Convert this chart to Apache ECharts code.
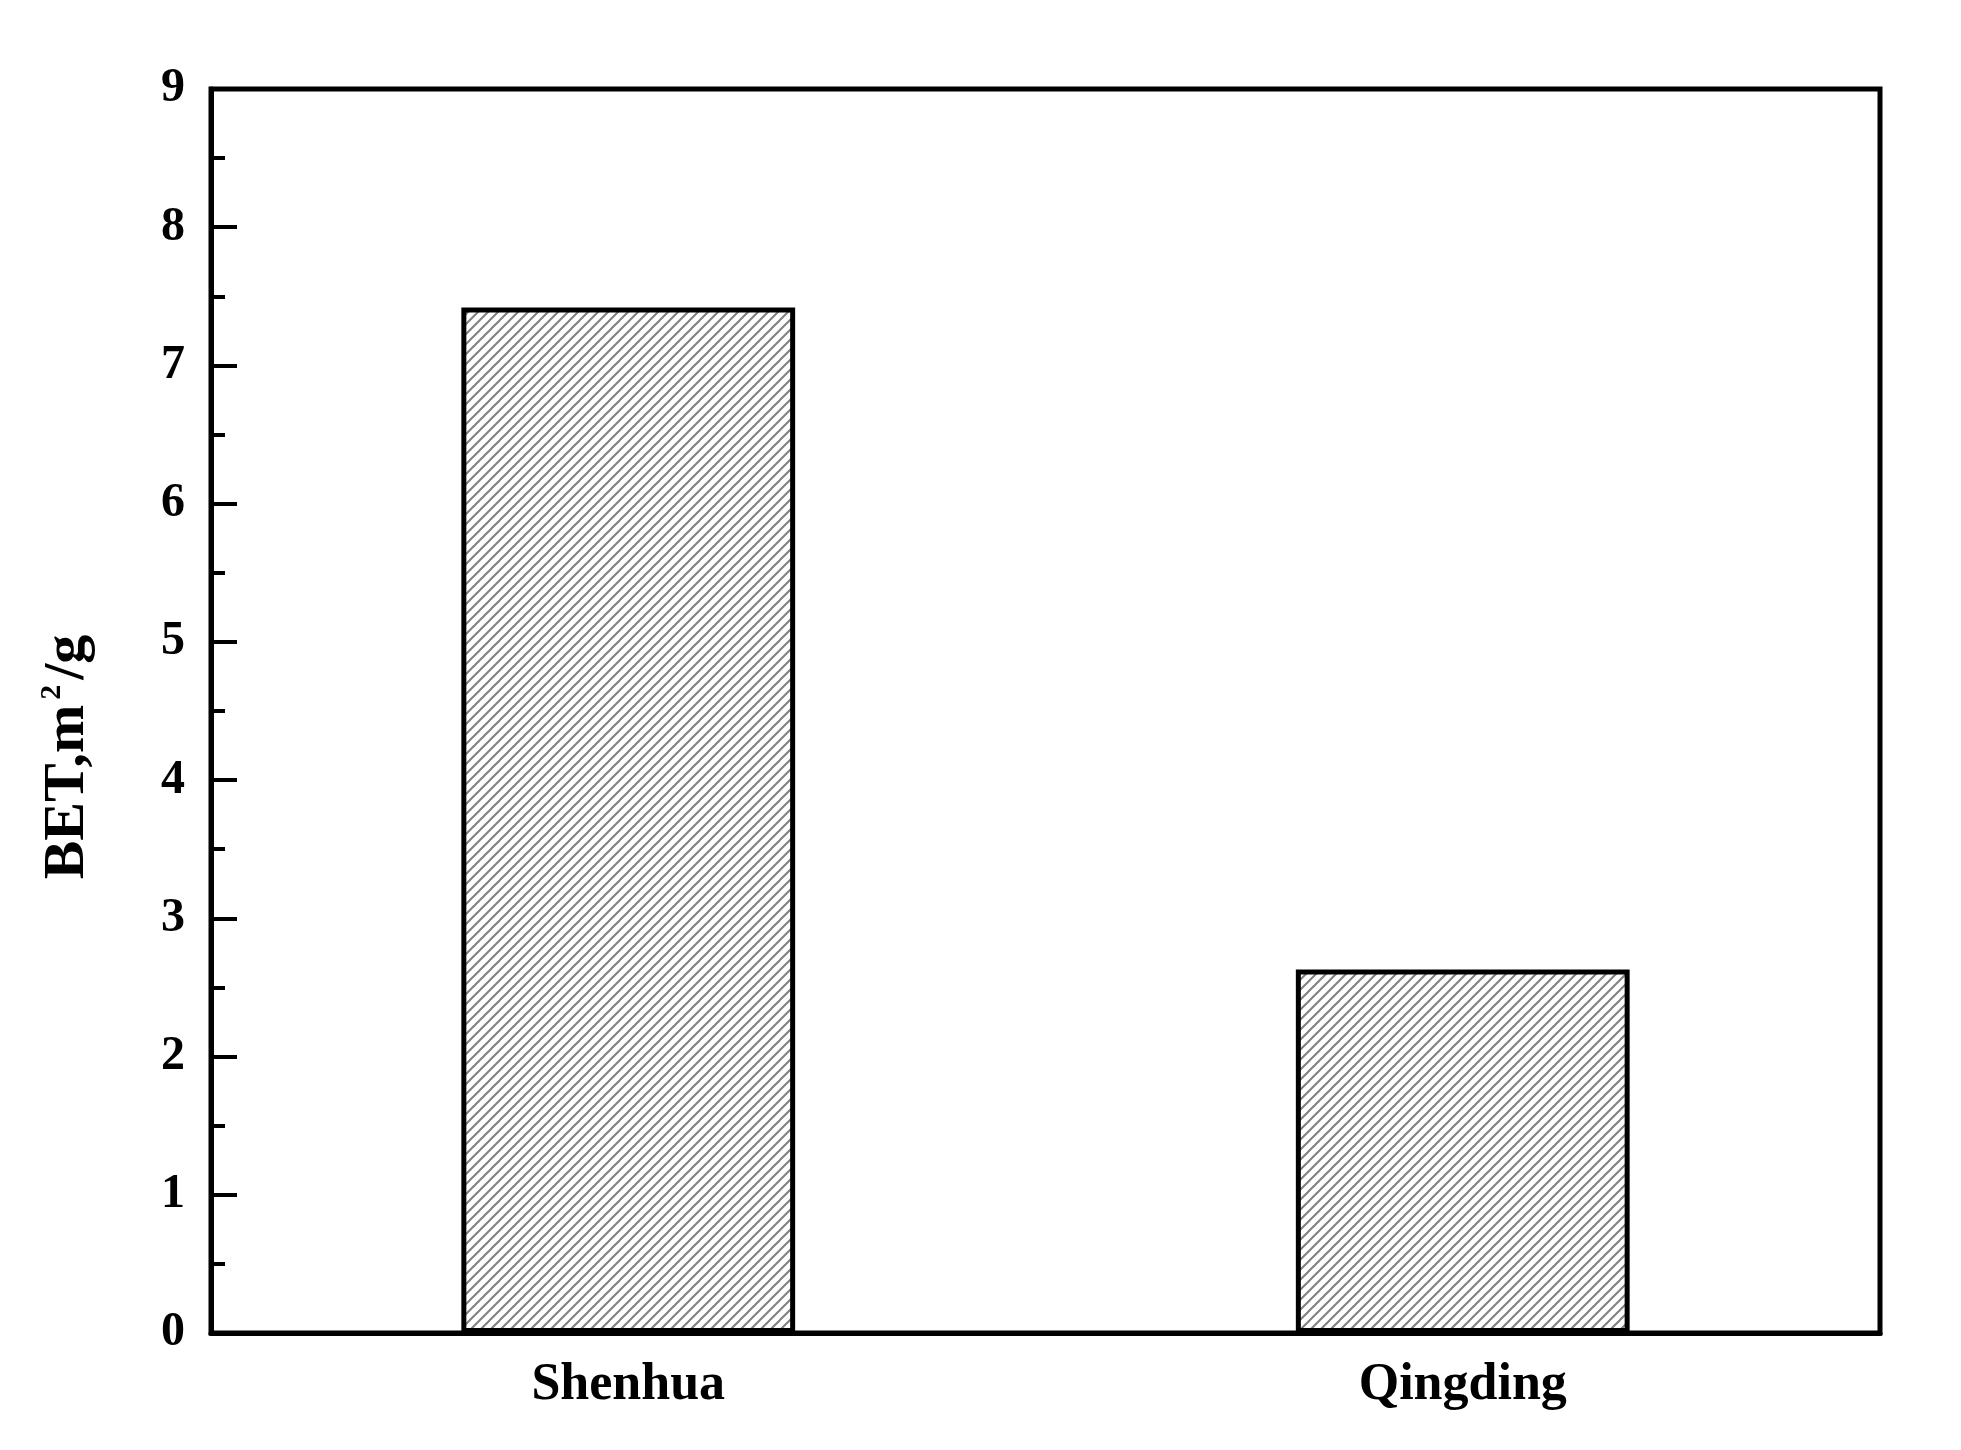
<!DOCTYPE html>
<html>
<head>
<meta charset="utf-8">
<script src="https://cdn.jsdelivr.net/npm/echarts@6/dist/echarts.min.js"></script>
<style>
  html, body { margin: 0; padding: 0; background: #fff; }
  #chart { width: 1961px; height: 1450px; }
</style>
</head>
<body>
<div id="chart"></div>
<script>
// data
const categories = ['Shenhua', 'Qingding'];
const betValues = [7.42, 2.63];
const yTicks = [0, 1, 2, 3, 4, 5, 6, 7, 8, 9];

// diagonal hatch used as bar fill
const makeHatch = () => {
  const s = 10;
  const c = document.createElement('canvas');
  c.width = s;
  c.height = s;
  const ctx = c.getContext('2d');
  ctx.fillStyle = '#fff';
  ctx.fillRect(0, 0, s, s);
  ctx.strokeStyle = '#808080';
  ctx.lineWidth = 2;
  ctx.beginPath();
  ctx.moveTo(-1, s + 1); ctx.lineTo(s + 1, -1);
  ctx.moveTo(-1, 1); ctx.lineTo(1, -1);
  ctx.moveTo(s - 1, s + 1); ctx.lineTo(s + 1, s - 1);
  ctx.stroke();
  return c;
};

const font = 'Liberation Serif';
const chart = echarts.init(document.getElementById('chart'));

chart.setOption({
  animation: false,
  backgroundColor: '#fff',
  grid: {
    left: 211, top: 89, right: 81, bottom: 117,
    show: true, borderColor: '#000', borderWidth: 5
  },
  xAxis: {
    type: 'category',
    data: categories,
    axisLine: { lineStyle: { color: '#000', width: 5 } },
    axisTick: { show: false },
    axisLabel: {
      margin: 27, color: '#000', fontFamily: font,
      fontWeight: 'bold', fontSize: 52
    }
  },
  yAxis: {
    type: 'value',
    min: yTicks[0],
    max: yTicks[yTicks.length - 1],
    interval: 1,
    name: 'BET,m{sup|2}/g',
    nameLocation: 'middle',
    nameGap: 112,
    nameTextStyle: {
      color: '#000', fontFamily: font, fontWeight: 'bold', fontSize: 58,
      padding: [0, 92, 0, 0],
      rich: {
        sup: { fontFamily: font, fontWeight: 'bold', fontSize: 30, verticalAlign: 'top', padding: [0, 5, 32, 5] }
      }
    },
    axisLine: { show: true, lineStyle: { color: '#000', width: 5 } },
    axisTick: { show: true, inside: true, length: 26, lineStyle: { color: '#000', width: 4 } },
    minorTick: { show: true, splitNumber: 2, length: 14, lineStyle: { color: '#000', width: 4 } },
    splitLine: { show: false },
    axisLabel: {
      margin: 26, color: '#000', fontFamily: font,
      fontWeight: 'bold', fontSize: 48
    }
  },
  series: [{
    type: 'bar',
    data: betValues,
    barWidth: '40%',
    itemStyle: {
      color: { image: makeHatch(), repeat: 'repeat' },
      borderColor: '#000',
      borderWidth: 5
    }
  }]
});
</script>
</body>
</html>
